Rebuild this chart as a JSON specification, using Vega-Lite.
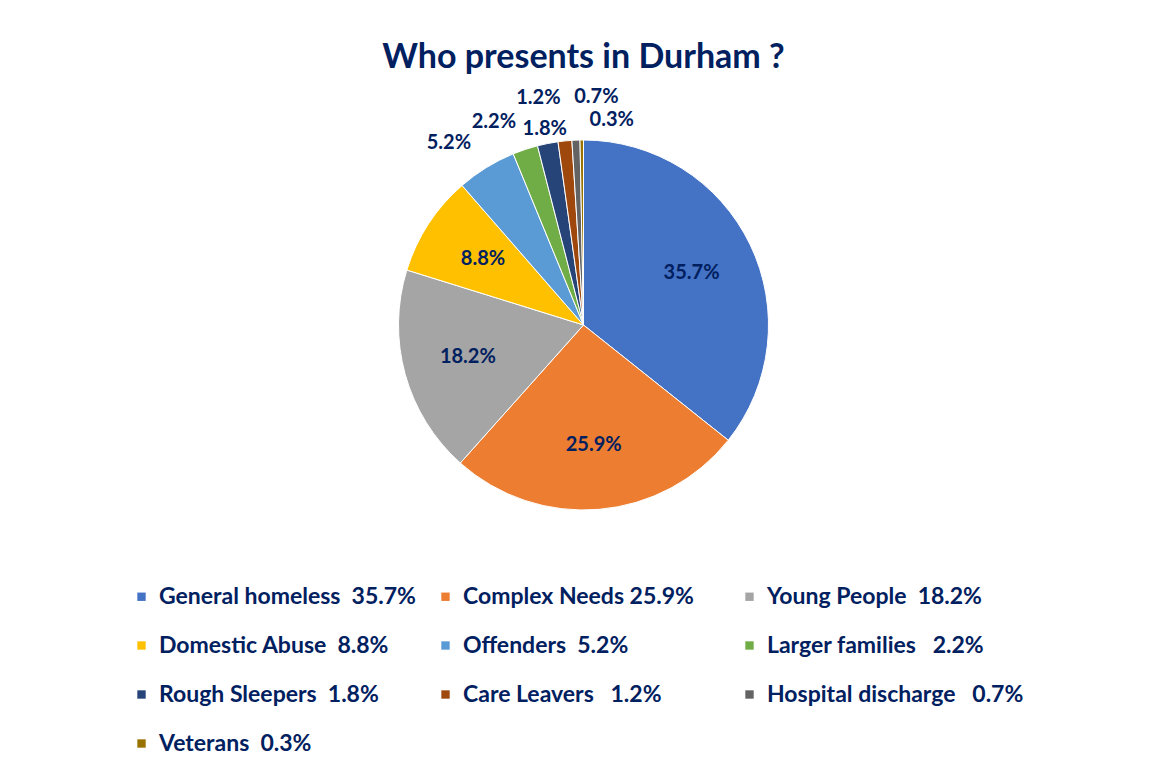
{
  "$schema": "https://vega.github.io/schema/vega-lite/v6.json",
  "width": 1147,
  "height": 470,
  "autosize": {"type": "none"},
  "padding": {"left": 10, "top": 90, "right": 0, "bottom": 211},
  "background": "white",
  "title": {"text": "Who presents in Durham ?", "fontSize": 34, "font": "Lato", "fontWeight": "bold", "color": "#002060", "anchor": "middle", "offset": 12},
  "data": {"values": [
    {"idx": 1, "cat": "General homeless", "value": 35.7, "pct": "35.7%", "label": "General homeless\u00a0\u00a035.7%"},
    {"idx": 2, "cat": "Complex Needs", "value": 25.9, "pct": "25.9%", "label": "Complex Needs 25.9%"},
    {"idx": 3, "cat": "Young People", "value": 18.2, "pct": "18.2%", "label": "Young People\u00a0\u00a018.2%"},
    {"idx": 4, "cat": "Domestic Abuse", "value": 8.8, "pct": "8.8%", "label": "Domestic Abuse\u00a0\u00a08.8%"},
    {"idx": 5, "cat": "Offenders", "value": 5.2, "pct": "5.2%", "label": "Offenders\u00a0\u00a05.2%"},
    {"idx": 6, "cat": "Larger families", "value": 2.2, "pct": "2.2%", "label": "Larger families\u00a0\u00a0\u00a02.2%"},
    {"idx": 7, "cat": "Rough Sleepers", "value": 1.8, "pct": "1.8%", "label": "Rough Sleepers\u00a0\u00a01.8%"},
    {"idx": 8, "cat": "Care Leavers", "value": 1.2, "pct": "1.2%", "label": "Care Leavers\u00a0\u00a0\u00a01.2%"},
    {"idx": 9, "cat": "Hospital discharge", "value": 0.7, "pct": "0.7%", "label": "Hospital discharge\u00a0\u00a0\u00a00.7%"},
    {"idx": 10, "cat": "Veterans", "value": 0.3, "pct": "0.3%", "label": "Veterans\u00a0\u00a00.3%"}
  ]},
  "encoding": {
    "theta": {"field": "value", "type": "quantitative", "stack": true},
    "order": {"field": "idx", "type": "quantitative"}
  },
  "layer": [
    {
      "mark": {"type": "arc", "outerRadius": 185, "stroke": "white", "strokeWidth": 1},
      "encoding": {
        "color": {
          "field": "label", "type": "nominal",
          "scale": {
            "domain": ["General homeless\u00a0\u00a035.7%", "Complex Needs 25.9%", "Young People\u00a0\u00a018.2%", "Domestic Abuse\u00a0\u00a08.8%", "Offenders\u00a0\u00a05.2%", "Larger families\u00a0\u00a0\u00a02.2%", "Rough Sleepers\u00a0\u00a01.8%", "Care Leavers\u00a0\u00a0\u00a01.2%", "Hospital discharge\u00a0\u00a0\u00a00.7%", "Veterans\u00a0\u00a00.3%"],
            "range": ["#4472C4", "#ED7D31", "#A5A5A5", "#FFC000", "#5B9BD5", "#70AD47", "#264478", "#9E480E", "#636363", "#997300"]
          },
          "legend": {
            "orient": "none", "legendX": 120, "legendY": 495, "columns": 3, "direction": "horizontal", "title": null,
            "symbolType": "square", "symbolSize": 70, "symbolStrokeWidth": 0,
            "labelFont": "Lato", "labelFontSize": 23, "labelFontWeight": "bold", "labelColor": "#002060",
            "labelLimit": 400, "rowPadding": 25, "columnPadding": 18, "gridAlign": "all", "labelOffset": 6
          }
        }
      }
    },
    {
      "mark": {"type": "text", "radius": 120, "font": "Lato", "fontWeight": "bold", "fontSize": 20},
      "encoding": {
        "color": {"value": "#002060"},
        "text": {"condition": {"test": "datum.value > 8", "field": "pct"}, "value": ""}
      }
    },
    {
      "mark": {"type": "text", "radius": 214, "align": "right", "font": "Lato", "fontWeight": "bold", "fontSize": 20},
      "encoding": {
        "color": {"value": "#002060"},
        "text": {"condition": {"test": "datum.idx == 5 || datum.idx == 6", "field": "pct"}, "value": ""}
      }
    },
    {
      "mark": {"type": "text", "radius": 200, "align": "center", "font": "Lato", "fontWeight": "bold", "fontSize": 20},
      "encoding": {
        "color": {"value": "#002060"},
        "text": {"condition": {"test": "datum.idx == 7", "field": "pct"}, "value": ""}
      }
    },
    {
      "mark": {"type": "text", "radius": 228, "align": "right", "font": "Lato", "fontWeight": "bold", "fontSize": 20},
      "encoding": {
        "color": {"value": "#002060"},
        "text": {"condition": {"test": "datum.idx == 8", "field": "pct"}, "value": ""}
      }
    },
    {
      "mark": {"type": "text", "radius": 228, "align": "left", "font": "Lato", "fontWeight": "bold", "fontSize": 20},
      "encoding": {
        "color": {"value": "#002060"},
        "text": {"condition": {"test": "datum.idx == 9", "field": "pct"}, "value": ""}
      }
    },
    {
      "mark": {"type": "text", "radius": 205, "align": "left", "dx": 8, "font": "Lato", "fontWeight": "bold", "fontSize": 20},
      "encoding": {
        "color": {"value": "#002060"},
        "text": {"condition": {"test": "datum.idx == 10", "field": "pct"}, "value": ""}
      }
    }
  ],
  "config": {"view": {"stroke": null}}
}
